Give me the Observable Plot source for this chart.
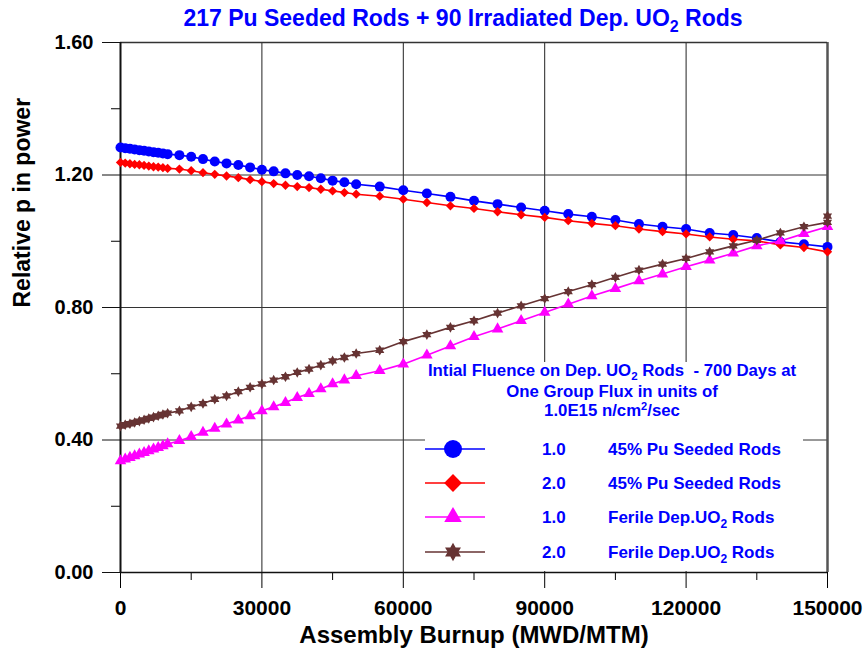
<!DOCTYPE html>
<html>
<head>
<meta charset="utf-8">
<script src="https://cdn.jsdelivr.net/npm/d3@7"></script>
<script src="https://cdn.jsdelivr.net/npm/@observablehq/plot@0.6"></script>
<style>
  html, body { margin: 0; padding: 0; background: white; }
  #chart { position: relative; width: 865px; height: 655px; }
</style>
</head>
<body>
<div id="chart"></div>
<script>
// ---------- data ----------
const burnup = [0,1000,2000,3000,4000,5000,6000,7000,8000,9000,10000,
  12500,15000,17500,20000,22500,25000,27500,30000,32500,35000,37500,40000,42500,45000,47500,50000,
  55000,60000,65000,70000,75000,80000,85000,90000,95000,100000,105000,110000,115000,120000,125000,130000,135000,140000,145000,150000];

const puSeeded1 = [1.283,1.281,1.279,1.277,1.275,1.273,1.271,1.269,1.267,1.265,1.263,
  1.260,1.255,1.248,1.241,1.235,1.230,1.223,1.216,1.211,1.205,1.200,1.196,1.190,1.183,1.178,1.172,
  1.165,1.154,1.144,1.134,1.122,1.112,1.102,1.092,1.082,1.074,1.064,1.052,1.044,1.037,1.025,1.019,1.010,0.998,0.991,0.983];

const puSeeded2 = [1.238,1.236,1.234,1.232,1.231,1.229,1.227,1.225,1.224,1.222,1.220,
  1.218,1.213,1.207,1.202,1.197,1.192,1.186,1.180,1.174,1.169,1.165,1.162,1.157,1.152,1.147,1.142,
  1.136,1.127,1.117,1.107,1.099,1.089,1.080,1.072,1.062,1.054,1.047,1.037,1.029,1.022,1.013,1.006,1.001,0.989,0.981,0.968];

const depUO2_1 = [0.337,0.342,0.347,0.352,0.357,0.362,0.367,0.372,0.377,0.382,0.388,
  0.398,0.410,0.423,0.435,0.448,0.460,0.473,0.488,0.500,0.513,0.528,0.540,0.554,0.569,0.581,0.594,
  0.609,0.629,0.656,0.684,0.712,0.735,0.760,0.785,0.810,0.835,0.857,0.880,0.901,0.923,0.943,0.964,0.986,1.001,1.023,1.044];

const depUO2_2 = [0.442,0.446,0.449,0.453,0.457,0.461,0.465,0.469,0.473,0.477,0.481,
  0.488,0.500,0.510,0.523,0.533,0.546,0.559,0.569,0.581,0.591,0.604,0.614,0.626,0.639,0.649,0.661,
  0.671,0.697,0.718,0.740,0.760,0.783,0.805,0.827,0.848,0.869,0.891,0.913,0.931,0.948,0.968,0.986,1.003,1.025,1.044,1.057];
const depUO2_2ExtraX = [150000];
const depUO2_2ExtraY = [1.076];

const xTicks = [0,30000,60000,90000,120000,150000];
const xMinor = [15000,45000,75000,105000,135000];
const yTicks = [0,0.4,0.8,1.2,1.6];
const yMinor = [0.2,0.6,1.0,1.4];

const legendFluence = ["1.0","2.0","1.0","2.0"];
const legendRod = ["45% Pu Seeded Rods","45% Pu Seeded Rods","Ferile Dep.UO|2| Rods","Ferile Dep.UO|2| Rods"];
const seriesColors = ["#0000ff","#ff0000","#ff00ff","#663333"];

// ---------- build ----------
const star6 = {
  draw(ctx, size) {
    const R = Math.sqrt(size / Math.PI) * 1.15, r = R / Math.sqrt(3);
    for (let i = 0; i < 12; i++) {
      const a = Math.PI / 6 * i - Math.PI / 2, rad = i % 2 === 0 ? R : r;
      const x = rad * Math.cos(a), y = rad * Math.sin(a);
      if (i === 0) ctx.moveTo(x, y); else ctx.lineTo(x, y);
    }
    ctx.closePath();
  }
};
const symbols = ["circle", "diamond2", "triangle", star6];
const rSizes = [5, 4.2, 4.3, 4.6];
const legendR = [9, 8, 6.5, 8];

const allY = [puSeeded1, puSeeded2, depUO2_1, depUO2_2];
const series = allY.map((ys, k) => {
  const rows = burnup.map((x, i) => ({x, y: ys[i]}));
  if (k === 3) depUO2_2ExtraX.forEach((x, i) => rows.push({x, y: depUO2_2ExtraY[i]}));
  return rows;
});

const font = "'Liberation Sans', Arial, Helvetica, sans-serif";

const marks = [
  Plot.gridX(xTicks, {stroke: "#222", strokeOpacity: 1, strokeWidth: 1}),
  Plot.gridY(yTicks, {stroke: "#333", strokeOpacity: 1, strokeWidth: 1}),
  Plot.ruleX([150000], {stroke: "#555", strokeWidth: 2.5}),
  Plot.ruleY([1.6], {stroke: "#333", strokeWidth: 1.5}),
  Plot.axisY(yTicks, {tickSize: 18, tickPadding: 9, tickFormat: d3.format(".2f"), label: null, fontSize: 20, fontWeight: "bold", stroke: "#111"}),
  Plot.axisY(yMinor, {tickSize: 9, tickFormat: () => "", label: null}),
  Plot.axisX(xTicks, {tickSize: 16, tickPadding: 12, tickFormat: d => String(d), label: null, fontSize: 21, fontWeight: "bold"}),
  Plot.axisX(xMinor, {tickSize: 8, tickFormat: () => "", label: null}),
  Plot.ruleY([0], {stroke: "#111", strokeWidth: 1.5}),
  Plot.ruleX([0], {stroke: "#111", strokeWidth: 2})
];
series.forEach((rows, k) => {
  marks.push(Plot.line(rows, {x: "x", y: "y", stroke: seriesColors[k], strokeWidth: 1.6}));
  marks.push(Plot.dot(rows, {x: "x", y: "y", symbol: symbols[k], r: rSizes[k], fill: seriesColors[k], stroke: "none"}));
});
marks.push(Plot.text(["Assembly Burnup (MWD/MTM)"], {frameAnchor: "bottom", dy: 70, fontSize: 24, fontWeight: "bold", fill: "black"}));
marks.push(Plot.text(["Relative p in power"], {frameAnchor: "left", dx: -98, rotate: -90, fontSize: 23, fontWeight: "bold", fill: "black"}));

const svgEl = Plot.plot({
  width: 865, height: 655,
  marginLeft: 120, marginRight: 38, marginTop: 42, marginBottom: 83,
  x: {domain: [0, 150000]},
  y: {domain: [0, 1.6]},
  style: {fontFamily: font, background: "white", color: "black", overflow: "visible"},
  marks
});
document.getElementById("chart").appendChild(svgEl);

// ---------- title and legend (overlay text) ----------
const svg = d3.select(svgEl);
function richText(sel, str, subSize, shift) {
  const parts = str.split("|");
  parts.forEach((p, i) => {
    if (i % 2 === 1) {
      sel.append("tspan").attr("dy", shift).attr("font-size", subSize).text(p);
    } else {
      const t = sel.append("tspan").text(p);
      if (i > 0) t.attr("dy", -shift);
    }
  });
}
const title = svg.append("text").attr("x", 463).attr("y", 26).attr("text-anchor", "middle")
  .attr("font-family", font).attr("font-weight", "bold").attr("font-size", 23).attr("fill", "#0000ff")
  .style("white-space", "pre");
richText(title, "217 Pu Seeded Rods + 90 Irradiated Dep. UO|2| Rods", 16, 6);

const lg = svg.append("g").attr("font-family", font).attr("font-weight", "bold").attr("fill", "#0000ff")
  .attr("text-anchor", "start");
lg.append("rect").attr("x", 425).attr("y", 362).attr("width", 378).attr("height", 209).attr("fill", "white");
const h1 = lg.append("text").attr("x", 612).attr("y", 376).attr("text-anchor", "middle").attr("font-size", 16.8).style("white-space", "pre");
richText(h1, "Intial Fluence on Dep. UO|2| Rods  - 700 Days at", 11.5, 4);
lg.append("text").attr("x", 612).attr("y", 396.5).attr("text-anchor", "middle").attr("font-size", 16.8).text("One Group Flux in units of");
const h3 = lg.append("text").attr("x", 612).attr("y", 415.5).attr("text-anchor", "middle").attr("font-size", 16.8);
h3.append("tspan").text("1.0E15 n/cm");
h3.append("tspan").attr("dy", -6).attr("font-size", 11).text("2");
h3.append("tspan").attr("dy", 6).text("/sec");

const rowY = [449, 483, 517, 552];
legendFluence.forEach((f, k) => {
  const y = rowY[k];
  lg.append("line").attr("x1", 425).attr("x2", 485).attr("y1", y).attr("y2", y)
    .attr("stroke", seriesColors[k]).attr("stroke-width", 1.6);
  const sym = typeof symbols[k] === "string"
    ? {circle: d3.symbolCircle, diamond2: d3.symbolDiamond2, triangle: d3.symbolTriangle}[symbols[k]]
    : symbols[k];
  lg.append("path").attr("transform", `translate(453,${y})`)
    .attr("d", d3.symbol(sym, legendR[k] * legendR[k] * Math.PI)())
    .attr("fill", seriesColors[k]);
  lg.append("text").attr("x", 542).attr("y", y + 6).attr("font-size", 17).attr("text-anchor", "start").text(f);
  const t = lg.append("text").attr("x", 608).attr("y", y + 6).attr("font-size", 17).attr("text-anchor", "start");
  richText(t, legendRod[k], 12, 5);
});
</script>
</body>
</html>
